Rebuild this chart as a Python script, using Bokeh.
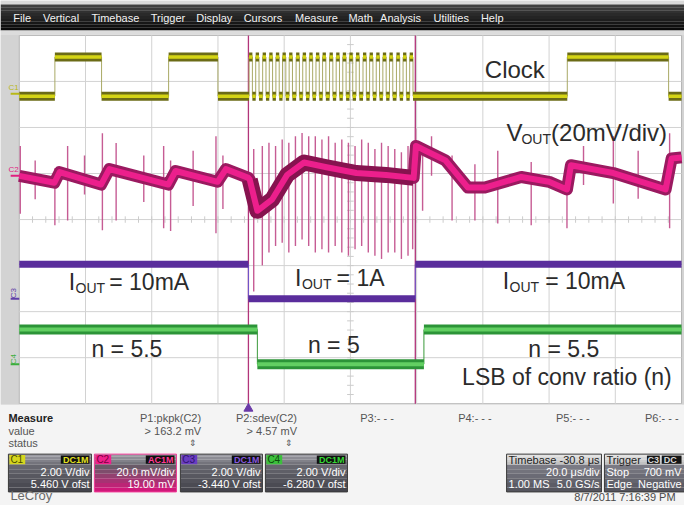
import numpy as np
from bokeh.plotting import figure
from bokeh.models import Range1d, Label
from bokeh.embed import file_html
from bokeh.resources import INLINE

# ===================== DATA =====================
time_per_div_us = 20.0
trigger_delay_us = -30.8
n_time_divs = 10
n_volt_divs = 8

ch_labels = ["C1", "C2", "C3", "C4"]
ch_vdiv = [2.0, 20.0, 2.0, 2.0]            # V/div (C2 in mV/div)
ch_offset = [5.46, 19.0, -3.44, -6.28]     # V (C2 in mV)
ch_coupling = ["DC1M", "AC1M", "DC1M", "DC1M"]
ch_scale_text = ["2.00 V/div", "20.0 mV/div", "2.00 V/div", "2.00 V/div"]
ch_offset_text = ["5.460 V ofst", "19.00 mV", "-3.440 V ofst", "-6.280 V ofst"]

# C1 : clock (V)
clk_low_v = -0.1
clk_high_v = 1.6
clk_rise_us = [-58.45, -24.1, 0.2, 2.2, 4.3, 6.3, 8.3, 10.3, 12.3, 14.4, 16.4, 18.4, 20.4,
               22.4, 24.5, 26.5, 28.5, 30.5, 32.5, 34.6, 36.6, 38.6, 40.6, 42.6, 44.7, 46.7,
               48.7, 96.3]
clk_fall_us = [-44.35, -9.2, 1.2, 3.2, 5.3, 7.3, 9.3, 11.3, 13.3, 15.4, 17.4, 19.4, 21.4,
               23.4, 25.5, 27.5, 29.5, 31.5, 33.5, 35.6, 37.6, 39.6, 41.6, 43.6, 45.7, 47.7,
               49.7, 126.9]

# C2 : VOUT ripple (mV, AC coupled)
c2_t_us = [-69.2, -58.6, -57.0, -44.5, -42.0, -24.2, -22.0, -9.3, -6.8, 0.0, 0.4, 2.7,
           7.2, 11.7, 16.8, 23.6, 32.6, 41.6, 49.9, 50.6, 53.5, 59.5, 66.3, 71.4, 82.4,
           90.8, 96.2, 97.4, 110.2, 126.0, 127.8, 130.8]
c2_mv = [0.0, -3.0, 1.6, -3.8, 2.9, -3.8, 2.1, -2.6, 2.9, -0.9, -1.7, -15.2,
         -10.2, 0.4, 5.8, 3.7, 1.2, 0.4, -0.9, 13.0, 10.9, 6.7, -5.1, -5.1, -0.5,
         -2.6, -5.9, 4.6, 1.2, -5.9, 7.5, 8.0]
c2_spike_t_us = [-68.9, -64.4, -58.45, -54.6, -49.5, -44.1, -39.95, -31.6, -25.6, -23.5,
                 -16.7, -9.8, -7.7,
                 1.6, 4.2, 6.2, 8.2, 10.2, 12.2, 14.2, 16.2, 18.2, 20.2, 22.2, 24.2, 26.2,
                 28.2, 30.2, 32.2, 34.2, 36.2, 38.2, 40.2, 42.2, 44.2, 46.2, 48.2, 49.6,
                 50.5, 52.6, 55.3, 61.5, 68.4, 75.3, 85.4, 96.2, 101.2, 110.2, 117.7, 127.2]
c2_spike_top_mv = [13.0, 6.7, 3.3, 13.0, 8.8, 18.5, 14.3, 8.8, 13.0, 6.7,
                   10.9, 17.2, 8.8,
                   11.6, 13.0, 14.4, 13.0, 15.8, 14.4, 17.2, 18.6, 17.2, 17.2, 15.8, 17.2, 14.4,
                   15.8, 14.4, 13.0, 15.8, 14.4, 11.6, 14.4, 13.0, 11.6, 10.2, 13.0, 13.0,
                   20.6, 9.0, 17.2, 8.8, 5.0, 10.9, 6.0, 5.0, 13.0, 17.2, 10.9, 18.5]
c2_spike_bot_mv = [-16.5, -10.2, -21.5, -19.4, -8.1, -23.6, -19.4, -11.4, -22.8, -24.0,
                   -13.1, -24.9, -14.4,
                   -50.2, -38.9, -33.3, -30.5, -29.1, -33.3, -30.5, -27.7, -30.5, -33.3, -31.9,
                   -33.3, -30.5, -33.3, -34.7, -31.9, -30.5, -33.3, -34.7, -36.1, -33.3, -33.3,
                   -36.1, -34.7, -31.9,
                   0.0, -15.2, 0.0, -19.4, -19.4, -20.7, -21.5, -22.8, -4.0, -12.0, -10.0, -22.8]

# C3 : IOUT sense (V)
c3_edges_us = [0.0, 50.4]
c3_levels_v = [1.5, 0.0, 1.5]
# C4 : LSB of conversion ratio (V)
c4_edges_us = [2.7, 53.0]
c4_levels_v = [1.5, 0.0, 1.5]

cursor_t_us = [0.0, 50.4]

menu_items = ["File", "Vertical", "Timebase", "Trigger", "Display", "Cursors", "Measure",
              "Math", "Analysis", "Utilities", "Help"]
measure_names = ["P1:pkpk(C2)", "P2:sdev(C2)", "P3:- - -", "P4:- - -", "P5:- - -", "P6:- - -"]
measure_values = ["> 163.2 mV", "> 4.57 mV"]

# ===================== LAYOUT (pixels of the screenshot) =====================
FX0, FX1 = 0, 692          # frame, x
FYT, FYB = 0, 521          # frame, y (top, bottom)
GX0, GX1 = 19, 689         # graticule
GYT, GYB = 36, 416
PXD = (GX1 - GX0) / n_time_divs
PYD = (GYB - GYT) / n_volt_divs
FONT = "Liberation Sans"

p = figure(width=684, height=505, x_range=Range1d(FX0, FX1), y_range=Range1d(FYB, FYT),
           output_backend="svg", toolbar_location=None, min_border=0,
           x_axis_location=None, y_axis_location=None,
           background_fill_color="#ececec", border_fill_color="#ececec",
           outline_line_color=None)
p.xgrid.visible = False
p.ygrid.visible = False

# extra ranges: divisions, time, channel units
dx0 = (FX0 - GX0) / PXD
dx1 = (FX1 - GX0) / PXD
dy0 = (GYB - FYB) / PYD
dy1 = (GYB - FYT) / PYD
t_left = -n_time_divs / 2 * time_per_div_us - trigger_delay_us
p.extra_x_ranges = {"dx": Range1d(dx0, dx1),
                    "t": Range1d(t_left + dx0 * time_per_div_us, t_left + dx1 * time_per_div_us)}
p.extra_y_ranges = {"dy": Range1d(dy0, dy1)}
for i, name in enumerate(ch_labels):
    c = n_volt_divs / 2
    p.extra_y_ranges[name] = Range1d((dy0 - c) * ch_vdiv[i] - ch_offset[i],
                                     (dy1 - c) * ch_vdiv[i] - ch_offset[i])
t_right = t_left + n_time_divs * time_per_div_us


def hexmix(a, b, f):
    a = [int(a[i:i + 2], 16) for i in (1, 3, 5)]
    b = [int(b[i:i + 2], 16) for i in (1, 3, 5)]
    return "#%02x%02x%02x" % tuple(int(round(a[k] + (b[k] - a[k]) * f)) for k in range(3))


def grad(x0, x1, y0, y1, c0, c1, n=8):
    ys = np.linspace(y0, y1, n + 1)
    cols = [hexmix(c0, c1, k / max(n - 1, 1)) for k in range(n)]
    p.quad(left=[x0] * n, right=[x1] * n, top=list(ys[:-1]), bottom=list(ys[1:]),
           fill_color=cols, line_color=None)


def txt(x, y, s, size, color="#2b2b2b", align="left", baseline="middle",
        bold=False, angle=0.0):
    p.add_layout(Label(x=x, y=y, text=s, text_font=FONT, text_font_size=f"{size}px",
                       text_color=color, text_align=align, text_baseline=baseline,
                       text_font_style="bold" if bold else "normal", angle=angle))


def big(x, base, s, size, color="#2b2b2b"):
    # place text by its baseline (screenshot pixels), drawn with a middle baseline
    txt(x, base - 0.35 * size, s, size, color=color)


# ---------- chrome ----------
p.quad(left=[FX0], right=[FX1], top=[0], bottom=[4], fill_color="#d8d8d8", line_color=None)
grad(FX0, FX1, 4, 31, "#3e3e3e", "#0a0a0a", 9)
p.quad(left=[FX0], right=[FX1], top=[31], bottom=[35], fill_color="#dcdcdc", line_color=None)
p.quad(left=[FX0], right=[GX0], top=[35], bottom=[417], fill_color="#d3d3d3", line_color=None)
p.quad(left=[GX1], right=[FX1], top=[35], bottom=[417], fill_color="#d3d3d3", line_color=None)
p.quad(left=[FX0], right=[FX1], top=[417], bottom=[FYB], fill_color="#f4f4f4", line_color=None)
menu_x = [13, 43, 92, 152, 198, 246, 298, 352, 384, 438, 486]
for mx, m in zip(menu_x, menu_items):
    txt(mx, 18, m, 11, color="#f2f2f2")

# ---------- graticule ----------
p.quad(left=[0], right=[n_time_divs], bottom=[0], top=[n_volt_divs], x_range_name="dx",
       y_range_name="dy", fill_color="white", line_color="#b4b4b4", line_width=1)
vx = list(range(1, n_time_divs))
p.segment(x0=vx, x1=vx, y0=[0] * len(vx), y1=[n_volt_divs] * len(vx), x_range_name="dx",
          y_range_name="dy", line_color="#d2d2d2", line_width=1)
hy = list(range(1, n_volt_divs))
p.segment(x0=[0] * len(hy), x1=[n_time_divs] * len(hy), y0=hy, y1=hy, x_range_name="dx",
          y_range_name="dy", line_color="#d2d2d2", line_width=1)
tk_y = [k / 5 for k in range(1, n_volt_divs * 5)]
p.segment(x0=[n_time_divs / 2 - 0.05] * len(tk_y), x1=[n_time_divs / 2 + 0.05] * len(tk_y),
          y0=tk_y, y1=tk_y, x_range_name="dx", y_range_name="dy", line_color="#cccccc")
tk_x = [k / 5 for k in range(1, n_time_divs * 5)]
p.segment(x0=tk_x, x1=tk_x, y0=[n_volt_divs / 2 - 0.07] * len(tk_x),
          y1=[n_volt_divs / 2 + 0.07] * len(tk_x), x_range_name="dx", y_range_name="dy",
          line_color="#cccccc")


# ---------- traces ----------
def step_path(edges, levels):
    ts, vs = [t_left], [levels[0]]
    for i, e in enumerate(edges):
        ts += [e, e]
        vs += [levels[i], levels[i + 1]]
    ts.append(t_right)
    vs.append(levels[-1])
    return ts, vs


def flats(ts, vs):
    x0, x1, y = [], [], []
    for i in range(len(ts) - 1):
        if vs[i] == vs[i + 1] and ts[i + 1] > ts[i]:
            x0.append(ts[i]); x1.append(ts[i + 1]); y.append(vs[i])
    return x0, x1, y


# cursors
p.segment(x0=cursor_t_us, x1=cursor_t_us, y0=[0, 0], y1=[n_volt_divs] * 2, x_range_name="t",
          y_range_name="dy", line_color="#b2357a", line_width=1.3)

# C4
ts, vs = step_path(c4_edges_us, c4_levels_v)
p.line(ts, vs, x_range_name="t", y_range_name="C4", line_color="#3a9a3a", line_width=1)
a, b, y = flats(ts, vs)
p.segment(x0=a, x1=b, y0=y, y1=y, x_range_name="t", y_range_name="C4",
          line_color="#2c9438", line_width=10, line_cap="butt")
p.segment(x0=a, x1=b, y0=y, y1=y, x_range_name="t", y_range_name="C4",
          line_color="#62cf62", line_width=4, line_cap="butt")

# C3
ts, vs = step_path(c3_edges_us, c3_levels_v)
p.line(ts, vs, x_range_name="t", y_range_name="C3", line_color="#6a5ad0", line_width=1)
a, b, y = flats(ts, vs)
p.segment(x0=a, x1=b, y0=y, y1=y, x_range_name="t", y_range_name="C3",
          line_color="#5a2d9c", line_width=7, line_cap="butt")

# C2
p.segment(x0=c2_spike_t_us, x1=c2_spike_t_us, y0=c2_spike_bot_mv, y1=c2_spike_top_mv,
          x_range_name="t", y_range_name="C2", line_color="#c04a88", line_width=1.4,
          line_alpha=0.9)
p.line(c2_t_us, c2_mv, x_range_name="t", y_range_name="C2", line_color="#9a1a60",
       line_width=12, line_join="round")
m = [(t, v) for t, v in zip(c2_t_us, c2_mv) if 0.3 <= t <= 50.0]
p.line([q[0] for q in m], [q[1] for q in m], x_range_name="t", y_range_name="C2",
       line_color="#86134f", line_width=16, line_join="round")
p.line(c2_t_us, c2_mv, x_range_name="t", y_range_name="C2", line_color="#ec1f8c",
       line_width=6, line_join="round")

# C1 clock
edges = sorted(clk_rise_us + clk_fall_us)
rise_set = set(clk_rise_us)
levels = [clk_low_v] + [clk_high_v if e in rise_set else clk_low_v for e in edges]
ts, vs = step_path(edges, levels)
p.line(ts, vs, x_range_name="t", y_range_name="C1", line_color="#a9a965", line_width=1)
a, b, y = flats(ts, vs)
p.segment(x0=a, x1=b, y0=y, y1=y, x_range_name="t", y_range_name="C1",
          line_color="#6b6b16", line_width=9, line_cap="butt")
p.segment(x0=a, x1=b, y0=y, y1=y, x_range_name="t", y_range_name="C1",
          line_color="#d4d414", line_width=3.5, line_cap="butt")

# channel ground markers on the left
mk_colors = ["#b8b818", "#e0207f", "#6040a8", "#3cae3c"]
for i, name in enumerate(ch_labels):
    p.segment(x0=[-0.13], x1=[0.0], y0=[0], y1=[0], x_range_name="dx", y_range_name=name,
              line_color=mk_colors[i], line_width=2)
txt(8, 90, "C1", 8, color=mk_colors[0])
txt(8, 174, "C2", 8, color=mk_colors[1])
txt(13, 302, "C3", 8, color=mk_colors[2], align="center", angle=np.pi / 2)
txt(13, 370, "C4", 8, color=mk_colors[3], align="center", angle=np.pi / 2)

# trigger marker
p.scatter(x=[0.0], y=[421], x_range_name="t", marker="triangle", size=9,
          fill_color="#6a3aa8", line_color="#6a3aa8")

# ---------- annotations ----------
big(490, 80, "Clock", 24)
big(512, 145, "V", 24)
big(527, 148, "OUT", 14)
big(557, 145, "(20mV/div)", 24)
for (xi, xo, xe, yb, rest) in [(69, 76, 110, 298, "= 10mA"), (298, 305, 340, 294, "= 1A"),
                               (508, 515, 551, 297, "= 10mA")]:
    big(xi, yb, "I", 23)
    big(xo, yb + 3, "OUT", 14)
    big(xe, yb, rest, 23)
big(92, 368, "n = 5.5", 23)
big(311, 363, "n = 5", 23)
big(534, 368, "n = 5.5", 23)
big(467, 396, "LSB of conv ratio (n)", 23)

# ---------- bottom info panel ----------
txt(8, 431, "Measure", 11, color="#222222", bold=True)
txt(8, 444, "value", 11, color="#555555")
txt(8, 457, "status", 11, color="#555555")
meas_right = [203, 300, 398, 497, 596, 686]
for i, s in enumerate(measure_names):
    txt(meas_right[i], 431, s, 11, color="#555555", align="right")
for i, s in enumerate(measure_values):
    txt(meas_right[i], 444, s, 11, color="#555555", align="right")
    txt(meas_right[i] - 8, 457, "\u21d5", 9, color="#555555", align="center")

box_x = [(8, 92), (95, 178), (182, 265), (268, 351)]
lab_bg = ["#d6d61e", "#f0208c", "#6a3cc0", "#3cc03c"]
lab_fg = ["#4a4a00", "#7a0040", "#2e1470", "#0e4a0e"]
tag_fg = ["#e2e222", "#ff3a96", "#8658dc", "#36d836"]
for i, (x0, x1) in enumerate(box_x):
    grad(x0, x1, 468, 479, "#9a9aa2", "#74747c", 4)
    if i == 1:
        grad(x0, x1, 479, 507, "#6a5a68", "#d0187a", 6)
    else:
        grad(x0, x1, 479, 507, "#66666e", "#44444c", 6)
    p.quad(left=[x0], right=[x1], top=[468], bottom=[507], fill_color=None,
           line_color="#f03a96" if i == 1 else "#3a3a3a", line_width=1)
    p.quad(left=[x0 + 1], right=[x0 + 17], top=[469], bottom=[478.5],
           fill_color=lab_bg[i], line_color=None)
    txt(x0 + 2, 473.8, ch_labels[i], 10, color=lab_fg[i])
    p.quad(left=[x1 - 31], right=[x1 - 2], top=[469.5], bottom=[478],
           fill_color="#101010", line_color=None)
    txt(x1 - 3, 473.8, ch_coupling[i], 9, color=tag_fg[i], align="right", bold=True)
    txt(x1 - 2, 486.5, ch_scale_text[i], 11, color="#ffffff", align="right")
    txt(x1 - 2, 499, ch_offset_text[i], 11, color="#ffffff", align="right")

# timebase / trigger
for (x0, x1) in [(512, 608), (611, 700)]:
    grad(x0, x1, 468, 479, "#e2e2e2", "#c2c2c2", 4)
    grad(x0, x1, 479, 507, "#7a7a84", "#55555e", 6)
    p.quad(left=[x0], right=[x1], top=[468], bottom=[507], fill_color=None,
           line_color="#3a3a3a", line_width=1)
txt(514, 473.8, "Timebase", 11, color="#222222")
txt(606, 473.8, "-30.8 \u03bcs", 11, color="#222222", align="right")
txt(606, 486.5, "20.0 \u03bcs/div", 11, color="#ffffff", align="right")
txt(514, 499, "1.00 MS", 11, color="#ffffff")
txt(606, 499, "5.0 GS/s", 11, color="#ffffff", align="right")
txt(613, 473.8, "Trigger", 11, color="#222222")
p.quad(left=[654, 669], right=[667, 689], top=[469.5] * 2, bottom=[478] * 2,
       fill_color="#151515", line_color=None)
txt(660.5, 473.8, "C3", 9, color="#d8d8d8", align="center", bold=True)
txt(671, 473.8, "DC", 9, color="#d8d8d8", bold=True)
txt(613, 486.5, "Stop", 11, color="#ffffff")
txt(689, 486.5, "700 mV", 11, color="#ffffff", align="right")
txt(613, 499, "Edge", 11, color="#ffffff")
txt(689, 499, "Negative", 11, color="#ffffff", align="right")

txt(683, 512.5, "8/7/2011 7:16:39 PM", 11, color="#4a4a4a", align="right")
txt(10, 511, "LeCroy", 13, color="#6a6a6a")

open("out.html", "w").write(file_html(p, INLINE))
